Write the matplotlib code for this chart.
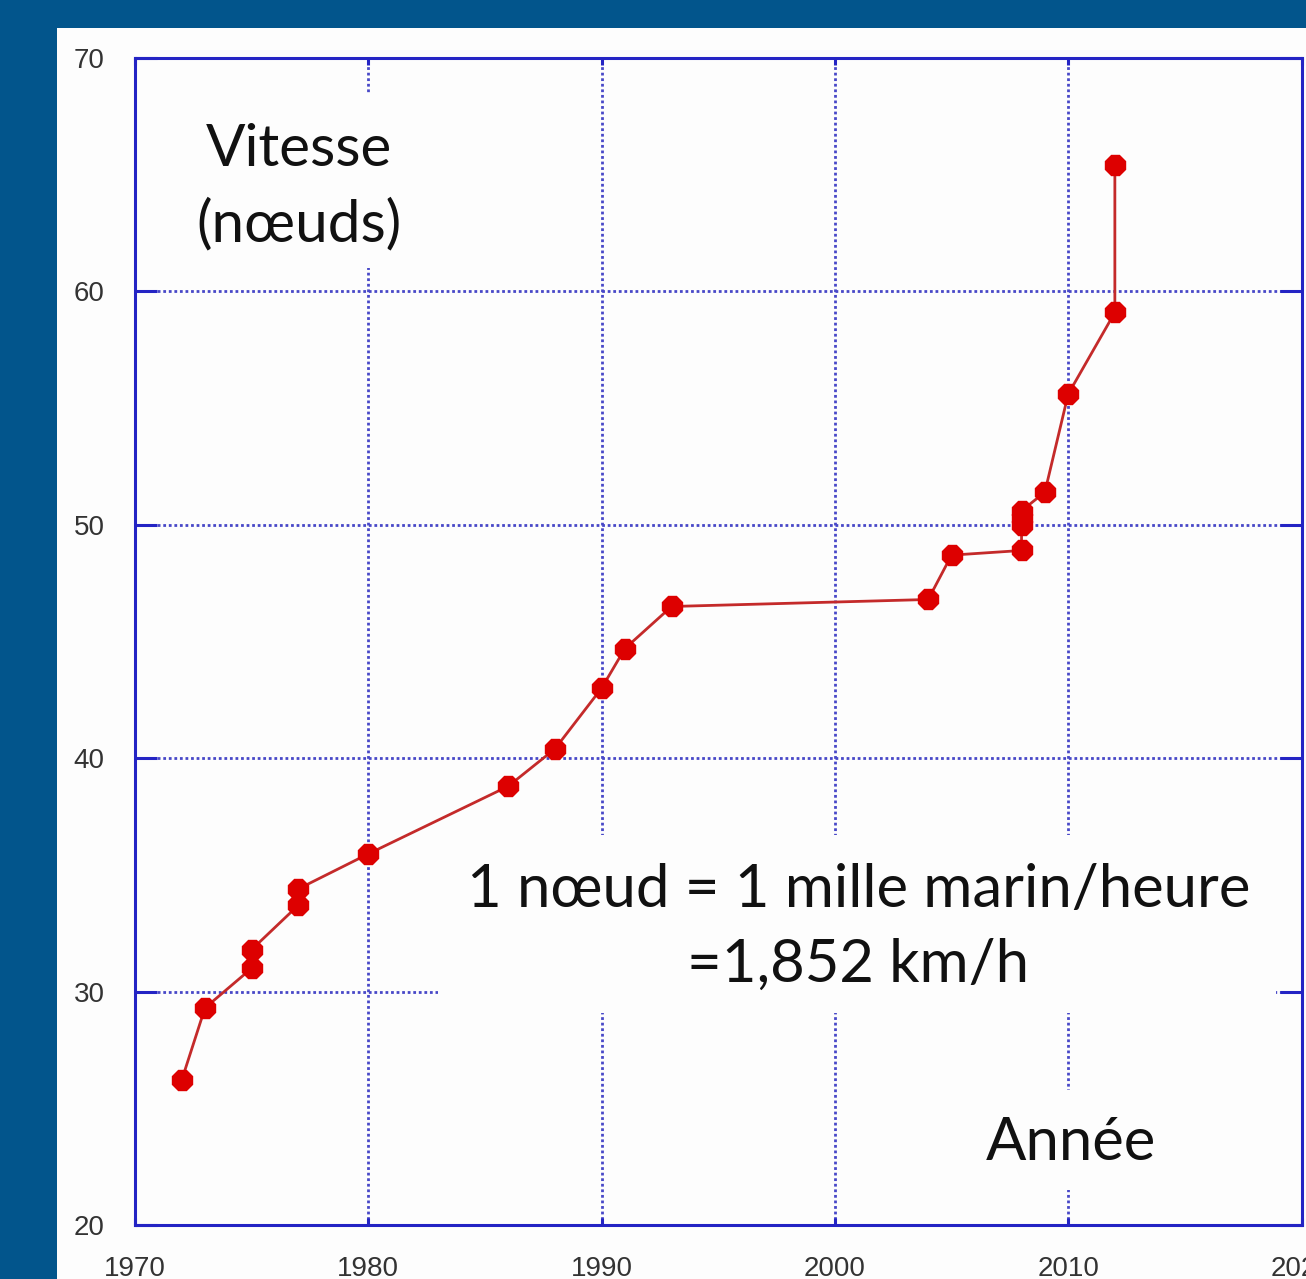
import matplotlib
matplotlib.use("Agg")
import matplotlib.pyplot as plt
from matplotlib.patches import Rectangle

# ---- data ----
years = [1972, 1973, 1975, 1975, 1977, 1977, 1980, 1986, 1988, 1990, 1991, 1993,
         2004, 2005, 2008, 2008, 2008, 2008, 2009, 2010, 2012, 2012]
speeds = [26.2, 29.3, 31.0, 31.8, 33.7, 34.4, 35.9, 38.8, 40.4, 43.0, 44.7, 46.5,
          46.8, 48.7, 48.9, 50.0, 50.3, 50.6, 51.4, 55.6, 59.1, 65.4]
x_ticks = [1970, 1980, 1990, 2000, 2010, 2020]
y_ticks = [20, 30, 40, 50, 60, 70]
label_speed = "Vitesse\n(nœuds)"
label_year = "Année"
note = "1 nœud = 1 mille marin/heure\n=1,852 km/h"

W, H = 1306, 1279
fig = plt.figure(figsize=(W / 100, H / 100), dpi=100, facecolor="#02558c")

# white panel
fig.patches.append(Rectangle((57 / W, 0), 1, 1 - 28 / H, transform=fig.transFigure,
                             facecolor="#fdfdfd", edgecolor="none", zorder=-10))

ax = fig.add_axes([135 / W, (H - 1225) / H, 1166.5 / W, 1167 / H])
ax.set_facecolor("none")
ax.set_xlim(1970, 2020)
ax.set_ylim(20, 70)
ax.set_xticks(x_ticks)
ax.set_yticks(y_ticks)

spine_c = "#2424c4"
for s in ax.spines.values():
    s.set_color(spine_c)
    s.set_linewidth(2.2)

ax.grid(True, color="#4848c8", linestyle=(0, (1.0, 1.0)), linewidth=2.0)
ax.tick_params(axis="both", direction="in", width=2.2, color=spine_c,
               top=True, right=True, labelsize=20, labelcolor="#333333")
ax.tick_params(axis="y", length=16, pad=22)
ax.tick_params(axis="x", length=5, pad=22)
for lab in ax.get_xticklabels() + ax.get_yticklabels():
    lab.set_family("Liberation Sans")

# white boxes hiding the grid behind the texts
ax.add_patch(Rectangle((1971.7, 61.0), 10.8, 7.5, facecolor="#fdfdfd", edgecolor="none", zorder=1.8))
ax.add_patch(Rectangle((1983.0, 29.1), 35.9, 7.6, facecolor="#fdfdfd", edgecolor="none", zorder=1.8))
ax.add_patch(Rectangle((2005.5, 21.5), 9.5, 4.3, facecolor="#fdfdfd", edgecolor="none", zorder=1.8))

ax.plot(years, speeds, color="#c42a2a", linewidth=2.0, marker="8", markersize=15,
        markerfacecolor="#dd0000", markeredgecolor="#dd0000", zorder=3, clip_on=False)

tf = ["Lato", "DejaVu Sans"]
ax.text(1977.03, 64.45, label_speed, ha="center", va="center", fontsize=42,
        family=tf, color="#111111", linespacing=1.5, zorder=4)
ax.text(2001.0, 32.75, note, ha="center", va="center", fontsize=43,
        family=tf, color="#111111", linespacing=1.47, zorder=4)
ax.text(2010.13, 23.5, label_year, ha="center", va="center", fontsize=43,
        family=tf, color="#111111", zorder=4)

fig.savefig("out.png", dpi=100, facecolor=fig.get_facecolor())
